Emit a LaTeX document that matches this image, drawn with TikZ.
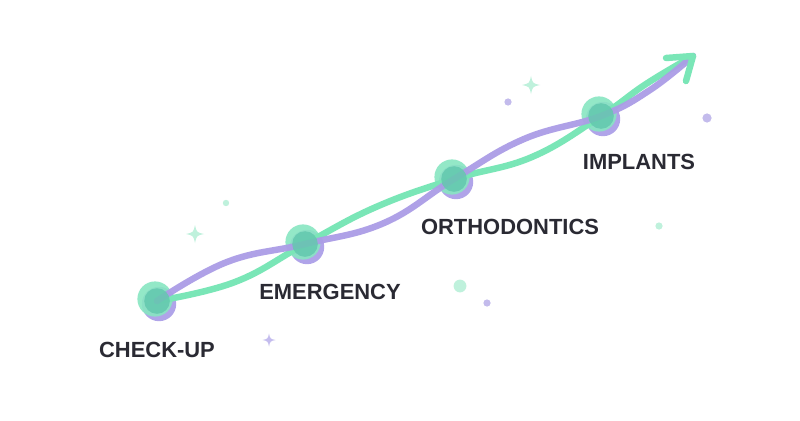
\documentclass[tikz,border=0pt]{standalone}
\usepackage{fontspec}
\setmainfont{Liberation Sans}
\usetikzlibrary{calc}
\definecolor{lgreen}{HTML}{7AE6B7}
\definecolor{lpurple}{HTML}{AB9DE6}
\definecolor{teal}{HTML}{63C8AE}
\definecolor{ringg}{HTML}{88E6C2}
\definecolor{ringp}{HTML}{B0A4E9}
\definecolor{txt}{HTML}{2A2A33}
\definecolor{sparkg}{HTML}{BFF1DC}
\definecolor{sparkp}{HTML}{C4BCEE}
\definecolor{dotg}{HTML}{BFF1DC}
\definecolor{dotp}{HTML}{C3BBEC}
\tikzset{
  wave/.style={line width=4.6pt, line cap=round, line join=round},
  lbl/.style={anchor=base, text=txt, font=\fontsize{15.6}{18}\selectfont\bfseries, inner sep=0pt},
}
\newcommand\sparkle[3]{% center, radius (px), color
  \fill[#3] ($#1+(0,-#2)$) .. controls ($#1+(0.18*#2,-0.18*#2)$) .. ($#1+(#2,0)$)
     .. controls ($#1+(0.18*#2,0.18*#2)$) .. ($#1+(0,#2)$)
     .. controls ($#1+(-0.18*#2,0.18*#2)$) .. ($#1+(-#2,0)$)
     .. controls ($#1+(-0.18*#2,-0.18*#2)$) .. cycle;}
\begin{document}
\begin{tikzpicture}[x=0.025cm,y=-0.025cm]
\useasboundingbox (0,0) rectangle (800,420);
\fill[white] (0,0) rectangle (800,420);
% node centers
\coordinate (n1) at (157,301);
\coordinate (n2) at (305,244);
\coordinate (n3) at (454,179);
\coordinate (n4) at (601,116);
\coordinate (tip) at (693,56);
% decorations
\sparkle{(195,234)}{9}{sparkg}
\sparkle{(531,85)}{9}{sparkg}
\sparkle{(269,340)}{6.5}{sparkp}
\fill[dotg] (226,203) circle[radius=0.08cm];
\fill[dotg] (460,286) circle[radius=0.16cm];
\fill[dotg] (659,226) circle[radius=0.09cm];
\fill[dotp] (487,303) circle[radius=0.09cm];
\fill[dotp] (508,102) circle[radius=0.09cm];
\fill[dotp] (707,118) circle[radius=0.115cm];
% rings
\foreach \n in {n1,n2,n3,n4}{
  \fill[ringp] ($(\n)+(2,3)$) circle[radius=0.43cm];
  \fill[ringg,opacity=0.9] ($(\n)+(-2,-2)$) circle[radius=0.44cm];
}
% waves
\draw[wave,lgreen] plot[smooth,tension=0.7] coordinates {(n1) (235,282) (n2) (376,207) (n3) (532,157) (n4) (646,84) (tip)};
\draw[wave,lpurple,opacity=0.95] plot[smooth,tension=0.7] coordinates {(n1) (227,262) (n2) (384,223) (n3) (524,139) (n4) (650,90) (tip)};
\draw[wave,lgreen] (666,58) -- (tip) -- (686,81);
% inner circles
\foreach \n in {n1,n2,n3,n4}{
  \fill[teal,opacity=0.85] (\n) circle[radius=0.32cm];
}
% labels
\node[lbl] (t1) at (157,357) {CHECK-UP};
\node[lbl] (t2) at (330,299) {EMERGENCY};
\node[lbl] (t3) at (510,234) {ORTHODONTICS};
\node[lbl] (t4) at (639,169) {IMPLANTS};
\end{tikzpicture}
\end{document}
